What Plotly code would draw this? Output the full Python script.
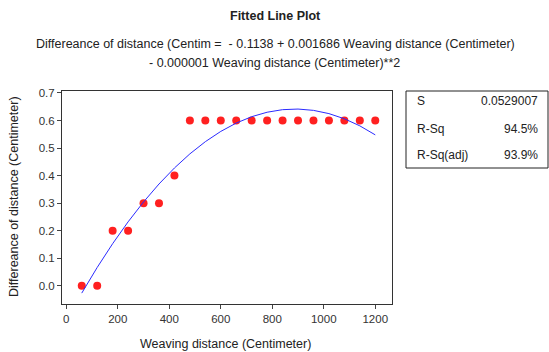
import numpy as np
import plotly.graph_objects as go

weaving = [60, 120, 180, 240, 300, 360, 420, 480, 540, 600, 660, 720, 780, 840,
           900, 960, 1020, 1080, 1140, 1200]
diff = [0.0, 0.0, 0.2, 0.2, 0.3, 0.3, 0.4, 0.6, 0.6, 0.6, 0.6, 0.6, 0.6, 0.6,
        0.6, 0.6, 0.6, 0.6, 0.6, 0.6]
x_ticks = [0, 200, 400, 600, 800, 1000, 1200]
y_ticks = [0.0, 0.1, 0.2, 0.3, 0.4, 0.5, 0.6, 0.7]
stat_names = ["S", "R-Sq", "R-Sq(adj)"]
stat_values = ["0.0529007", "94.5%", "93.9%"]

coef = np.polyfit(weaving, diff, 2)
fit_y = np.polyval(coef, weaving)

FONT = "Liberation Sans, Arial, sans-serif"
fig = go.Figure()
fig.add_trace(go.Scatter(x=weaving, y=diff, mode="markers",
                         marker=dict(color="#ff2020", size=8), showlegend=False))
fig.add_trace(go.Scatter(x=weaving, y=fit_y, mode="lines",
                         line=dict(color="#2b2bff", width=1), showlegend=False))

L, R, T, B = 62, 157, 91, 48
W, H = 549, 352
pw, ph = W - L - R, H - T - B

def px(xp):
    return (xp - L) / pw

def py(yp):
    return (H - B - yp) / ph

ann = [
    dict(text="<b>Fitted Line Plot</b>", x=px(275), y=py(16), font=dict(size=12.5)),
    dict(text="Differeance of distance (Centim =  - 0.1138 + 0.001686 Weaving distance (Centimeter)",
         x=px(275), y=py(44), font=dict(size=12.5)),
    dict(text="- 0.000001 Weaving distance (Centimeter)**2", x=px(274), y=py(63),
         font=dict(size=12.5)),
    dict(text="Weaving distance (Centimeter)", x=px(225), y=py(344), font=dict(size=12.5)),
    dict(text="Differeance of distance (Centimeter)", x=px(14), y=py(197),
         font=dict(size=12.5), textangle=-90),
]
rows_y = [101, 129, 155]
for name, val, yy in zip(stat_names, stat_values, rows_y):
    ann.append(dict(text=name, x=px(415), y=py(yy), xanchor="left", font=dict(size=12)))
    ann.append(dict(text=val, x=px(540), y=py(yy), xanchor="right", font=dict(size=12)))
for a in ann:
    a.setdefault("xanchor", "center")
    a.update(xref="paper", yref="paper", yanchor="middle", showarrow=False)
    a["font"] = dict(family=FONT, color="#222222", **a["font"])

fig.update_layout(
    width=W, height=H, margin=dict(l=L, r=R, t=T, b=B),
    plot_bgcolor="white", paper_bgcolor="white",
    font=dict(family=FONT, size=11, color="#333333"),
    annotations=ann,
    shapes=[dict(type="rect", xref="paper", yref="paper", x0=px(406), x1=px(548),
                 y0=py(168), y1=py(91), line=dict(color="#222222", width=1))],
    xaxis=dict(range=[-16.7, 1265], tickvals=x_ticks, ticks="outside", ticklen=4,
               showline=True, linecolor="#333333", mirror=True, showgrid=False,
               zeroline=False, tickfont=dict(size=11.5)),
    yaxis=dict(range=[-0.066, 0.707], tickvals=y_ticks, tickformat=".1f",
               ticks="outside", ticklen=4, showline=True, linecolor="#333333",
               mirror=True, showgrid=False, zeroline=False, tickfont=dict(size=11.5)),
)
fig.write_html("out.html", config={"displayModeBar": False},
               post_script="document.body.style.margin='0';document.body.style.padding='0';")
